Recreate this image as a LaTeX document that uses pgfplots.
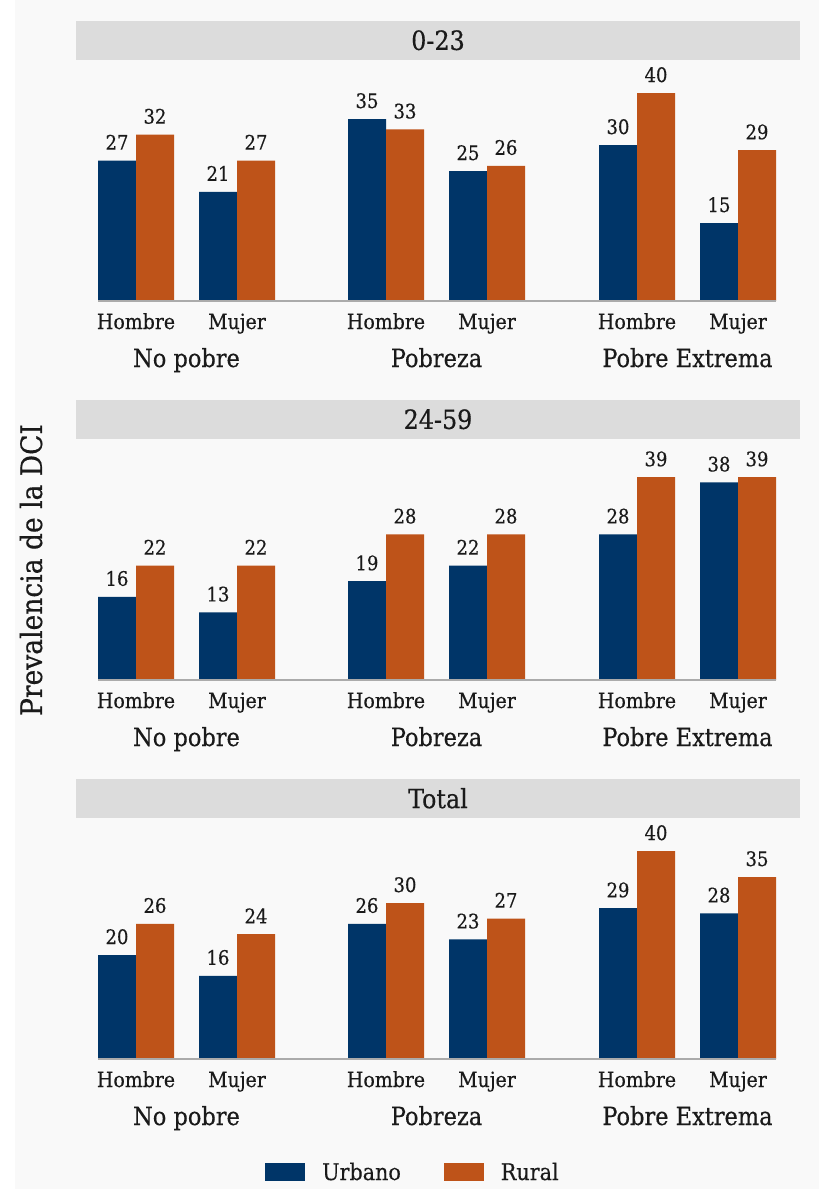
\documentclass[border=0pt]{standalone}
\usepackage{pgfplots}
\pgfplotsset{compat=1.18}
\usepackage{pgfplotstable}
\usepackage{fontspec}
\setmainfont[FakeBold=0.4]{DejaVu Serif Condensed}

\definecolor{urbano}{HTML}{003568}
\definecolor{rural}{HTML}{BE5319}
\definecolor{stripgray}{HTML}{DCDCDC}
\definecolor{bgpanel}{HTML}{F9F9F9}
\definecolor{txt}{HTML}{1A1A1A}
\definecolor{baseln}{HTML}{ABABAB}

% Prevalence by poverty level and sex; xu / xr are the bar centres
\pgfplotstableread{
xu xr urbano rural
117 155 27 32
218 256 21 27
367 405 35 33
468 506 25 26
618 656 30 40
719 757 15 29
}\edadA
\pgfplotstableread{
xu xr urbano rural
117 155 16 22
218 256 13 22
367 405 19 28
468 506 22 28
618 656 28 39
719 757 38 39
}\edadB
\pgfplotstableread{
xu xr urbano rural
117 155 20 26
218 256 16 24
367 405 26 30
468 506 23 27
618 656 29 40
719 757 28 35
}\edadT

\newcommand\ticksize{\fontsize{21}{25}\selectfont}
\newcommand\valsize{\fontsize{20}{24}\selectfont}
\newcommand\groupsize{\fontsize{25}{29}\selectfont}
\newcommand\stripsize{\fontsize{26.5}{30}\selectfont}

\pgfplotsset{
  panel/.style={
    scale only axis, width=724pt, height=241pt,
    xmin=76, xmax=800, ymin=0, ymax=46.35,
    axis x line=bottom, hide y axis,
    x axis line style={draw=none},
    xtick={136,237,386,487,637,738},
    xticklabels={Hombre,Mujer,Hombre,Mujer,Hombre,Mujer},
    major tick length=0pt,
    xticklabel style={anchor=base, yshift=-28pt, font=\ticksize, text=txt},
    clip=false,
    nodes near coords,
    every node near coord/.append style={anchor=base, yshift=11pt, font=\valsize, text=txt},
    /pgf/number format/assume math mode=true,
  },
  urb/.style={ybar, bar width=38, bar shift=0, fill=urbano, draw=none,
    point meta=y,
    legend image code/.code={\fill[urbano] (0pt,-9pt) rectangle (40pt,9pt);}},
  rur/.style={ybar, bar width=38, bar shift=0, fill=rural, draw=none,
    point meta=y,
    legend image code/.code={\fill[rural] (0pt,-9pt) rectangle (40pt,9pt);}},
}

% strip header, baseline and group labels of one panel
\newcommand\panelextras[1]{%
  \fill[stripgray] (rel axis cs:0,1) rectangle ([yshift=39.5pt]rel axis cs:1,1);
  \node[font=\stripsize, text=txt] at ([yshift=19.75pt]rel axis cs:0.5,1) {#1};
  \draw[baseln, line width=1.2pt] (axis cs:98,0) -- (axis cs:776,0);
  \node[anchor=base, font=\groupsize, text=txt] at ([yshift=-66pt]axis cs:186.5,0) {No pobre};
  \node[anchor=base, font=\groupsize, text=txt] at ([yshift=-66pt]axis cs:436.5,0) {Pobreza};
  \node[anchor=base, font=\groupsize, text=txt] at ([yshift=-66pt]axis cs:687.5,0) {Pobre Extrema};
}

\begin{document}
\begin{tikzpicture}
\fill[bgpanel] (0,0) rectangle (819pt,-1189pt);
\fill[white] (0,0) rectangle (15pt,-1189pt);

\begin{axis}[panel, at={(76pt,-301pt)}, anchor=south west]
  \addplot[urb] table[x=xu, y=urbano] {\edadA};
  \addplot[rur] table[x=xr, y=rural] {\edadA};
  \panelextras{0-23}
\end{axis}

\begin{axis}[panel, at={(76pt,-680pt)}, anchor=south west]
  \addplot[urb] table[x=xu, y=urbano] {\edadB};
  \addplot[rur] table[x=xr, y=rural] {\edadB};
  \panelextras{24-59}
\end{axis}

\begin{axis}[panel, at={(76pt,-1059pt)}, anchor=south west,
  legend columns=2,
  legend style={draw=none, fill=none, inner sep=0pt,
    at={(axis description cs:0.261,-0.469)}, anchor=west,
    font=\fontsize{23}{27}\selectfont, text=txt,
    nodes={inner sep=0pt, anchor=west},
    /tikz/every odd column/.append style={column sep=17pt},
    /tikz/every even column/.append style={column sep=43pt}}]
  \addplot[urb] table[x=xu, y=urbano] {\edadT};
  \addplot[rur] table[x=xr, y=rural] {\edadT};
  \legend{Urbano, Rural}
  \panelextras{Total}
\end{axis}

\node[rotate=90, font=\fontsize{29.5}{34}\selectfont, text=txt] at (31pt,-570pt) {Prevalencia de la DCI};

\pgfresetboundingbox
\useasboundingbox (0,0) rectangle (819pt,-1189pt);
\end{tikzpicture}
\end{document}
